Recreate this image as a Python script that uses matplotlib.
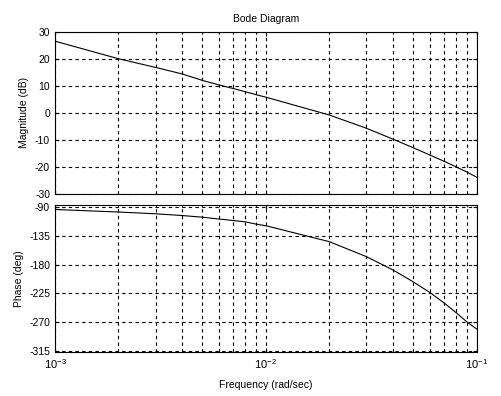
import matplotlib.pyplot as plt
import numpy as np

plt.rcParams['font.family'] = ['Liberation Sans', 'DejaVu Sans']
plt.rcParams['axes.unicode_minus'] = False

# values
freq = [1e-3, 2e-3, 3e-3, 4e-3, 5e-3, 6e-3, 7e-3, 8e-3, 9e-3, 1e-2,
        2e-2, 3e-2, 4e-2, 5e-2, 6e-2, 7e-2, 8e-2, 9e-2, 1e-1]
mag_db = [26.5, 20.0, 16.8, 14.4, 12.0, 10.3, 9.0, 7.8, 6.7, 5.8,
          -0.8, -5.7, -9.7, -12.9, -15.6, -17.9, -20.0, -21.9, -23.8]
phase_deg = [-93.5, -97.5, -100.3, -103.0, -105.6, -108.5, -110.8, -113.0, -116.5, -119.0,
             -144.0, -167.5, -188.2, -207.0, -223.7, -240.0, -255.5, -270.0, -281.0]

mag_ticks = [-30, -20, -10, 0, 10, 20, 30]
phase_ticks = [-315, -270, -225, -180, -135, -90]

fig = plt.figure(figsize=(5.02, 3.96), dpi=100)
ax1 = fig.add_axes([55/502, 1-194/396, 421.7/502, 162.3/396])
ax2 = fig.add_axes([55/502, 1-352/396, 421.7/502, 147/396])

for ax in (ax1, ax2):
    ax.set_xscale('log')
    ax.set_xlim(1e-3, 1e-1)
    ax.grid(True, which='both', axis='x', color='black', linestyle=(0, (3, 3)), linewidth=0.8)
    ax.grid(True, which='major', axis='y', color='black', linestyle=(0, (3, 3)), linewidth=0.8)
    ax.tick_params(which='both', direction='in', labelsize=7.5, top=True, right=True)
    ax.tick_params(which='major', length=3)
    ax.tick_params(which='minor', length=1.5)
    for s in ax.spines.values():
        s.set_linewidth(0.8)

ax1.plot(freq, mag_db, color='black', linewidth=0.8)
ax1.set_ylim(-30, 30)
ax1.set_yticks(mag_ticks)
ax1.tick_params(which='both', labelbottom=False)
ax1.set_ylabel('Magnitude (dB)', fontsize=7.5)
ax1.set_title('Bode Diagram', fontsize=7.5, pad=7)

ax2.plot(freq, phase_deg, color='black', linewidth=0.8)
ax2.set_ylim(-317, -86.5)
ax2.set_yticks(phase_ticks)
ax2.set_ylabel('Phase (deg)', fontsize=7.5)
ax2.set_xlabel('Frequency (rad/sec)', fontsize=7.5, labelpad=6)
ax2.tick_params(axis='x', labelsize=8, pad=4)

fig.savefig('out.png', dpi=100)
